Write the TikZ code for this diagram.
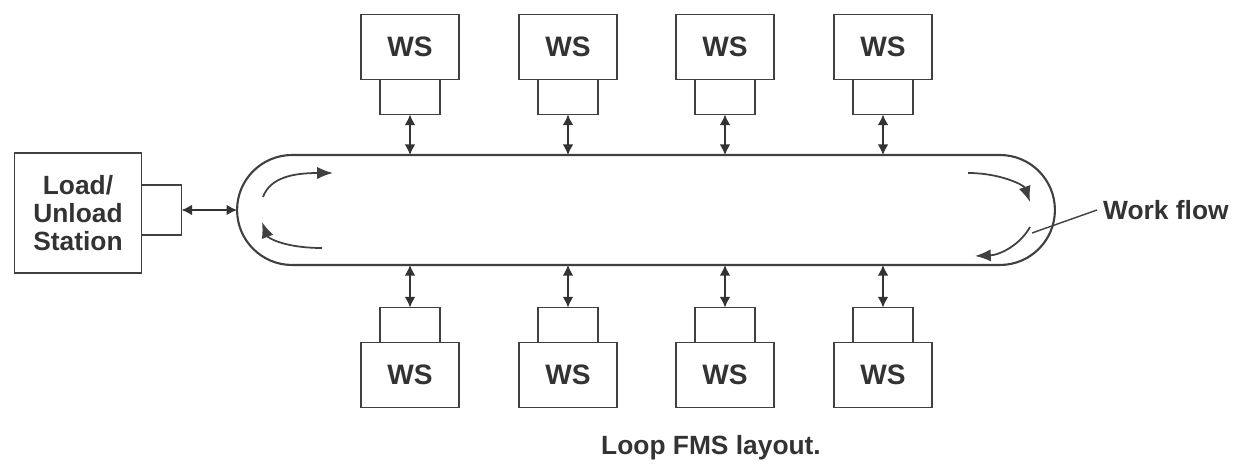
\documentclass[tikz,border=0pt]{standalone}
\usepackage{fontspec}
\setmainfont{Liberation Sans}
\usetikzlibrary{positioning,arrows.meta}

\tikzset{
  wsbox/.style={draw=black!75, line width=1.1pt, outer sep=0pt, inner sep=0pt,
    minimum width=1.95cm, minimum height=1.3cm, text=black!80,
    font=\fontsize{16}{18}\selectfont\bfseries},
  portbox/.style={draw=black!75, line width=1.1pt, outer sep=0pt, inner sep=0pt,
    minimum width=1.2cm, minimum height=0.7cm},
  link/.style={{Latex[length=6pt,width=6pt]}-{Latex[length=6pt,width=6pt]},
    black!80, line width=0.8pt},
  flow/.style={-{Latex[length=9pt,width=7pt]}, black!75, line width=1pt},
}

\begin{document}
\begin{tikzpicture}[x=0.02cm, y=-0.02cm]
\useasboundingbox (0,0) rectangle (1234,465);

% the loop conveyor
\node[draw=black!75, line width=1.2pt, outer sep=0pt, inner sep=0pt,
  rounded corners=1.1cm, minimum width=16.36cm, minimum height=2.2cm]
  (loop) at (646,210) {};

% work stations above and below the loop
\foreach \n/\x in {1/410,2/568,3/725,4/883} {
  \node[wsbox] (wst\n) at (\x,47) {WS};
  \node[portbox, below=0pt of wst\n] (pt\n) {};
  \draw[link] (pt\n.south) -- (pt\n.south |- loop.north);
  \node[wsbox] (wsb\n) at (\x,375) {WS};
  \node[portbox, above=0pt of wsb\n] (pb\n) {};
  \draw[link] (pb\n.north) -- (pb\n.north |- loop.south);
}

% load / unload station
\node[wsbox, minimum width=2.54cm, minimum height=2.4cm, align=center,
  font=\fontsize{15}{16}\selectfont\bfseries] (load) at (78,213) {Load/\\Unload\\Station};
\node[portbox, minimum width=0.8cm, minimum height=1cm, anchor=west]
  (lport) at (load.east |- 0,210) {};
\draw[link] (lport.east) -- (loop.west);

% direction of flow
\draw[flow] (263,197) .. controls (270,178) and (292,173) .. (333,173);
\draw[flow] (322,248) .. controls (285,248) and (268,238) .. (262,222);
\draw[flow] (968,173) .. controls (1000,173) and (1024,185) .. (1030,202);
\draw[flow] (1030,227) .. controls (1020,245) and (1000,255) .. (975,256);

\node[anchor=west, text=black!80, font=\fontsize{15}{17}\selectfont\bfseries]
  (wf) at (1097,210) {Work flow};
\coordinate (wfpt) at (1032,233);
\draw[black!75, line width=0.8pt] (wfpt) -- (wf.west);

\node[text=black!80, font=\fontsize{15}{17}\selectfont\bfseries] (cap) at (711,448)
  {Loop FMS layout.};
\end{tikzpicture}
\end{document}
